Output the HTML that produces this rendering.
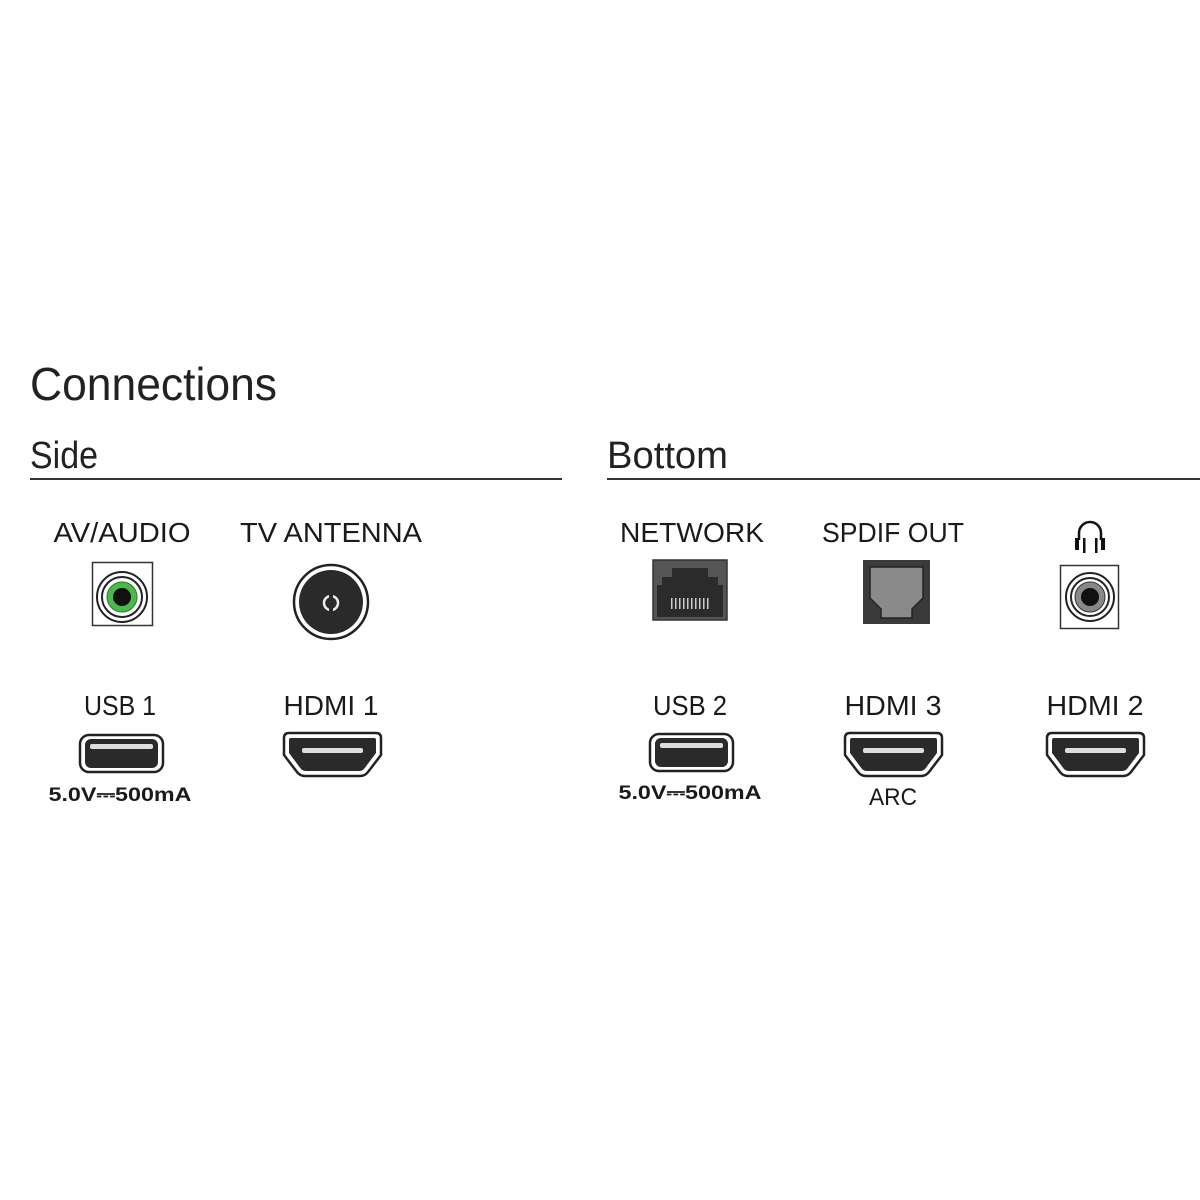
<!DOCTYPE html>
<html><head><meta charset="utf-8"><style>html,body{margin:0;padding:0;background:#fff}svg{display:block}</style></head>
<body>
<svg width="1200" height="1200" viewBox="0 0 1200 1200" xmlns="http://www.w3.org/2000/svg" font-family="Liberation Sans, sans-serif">
<defs>
<g id="hdmi">
<path d="M5,0 H92 Q97,0 97,5 V22 L84,39 Q81,43 76,43 H21 Q16,43 13,39 L0,22 V5 Q0,0 5,0 Z" fill="#fff" stroke="#222" stroke-width="2.5"/>
<path d="M7,5 H90 Q92,5 92,7 V20 L80,36 Q78,38 75,38 H22 Q19,38 17,36 L5,20 V7 Q5,5 7,5 Z" fill="#2a2a2a"/>
<rect x="18" y="15" width="61" height="5" rx="2" fill="#ddd"/>
</g>
<g id="usb">
<rect x="0" y="0" width="83" height="37" rx="9" fill="#fff" stroke="#222" stroke-width="2.5"/>
<rect x="5" y="4" width="73" height="29" rx="6" fill="#2a2a2a"/>
<rect x="10" y="9" width="63" height="5" rx="2" fill="#ddd"/>
</g>
</defs>
<g fill="#1a1a1a">
<text x="30" y="400" font-size="46" textLength="247" lengthAdjust="spacingAndGlyphs" fill="#222">Connections</text>
<text x="30" y="468" font-size="38" textLength="68" lengthAdjust="spacingAndGlyphs" fill="#222">Side</text>
<text x="607" y="468" font-size="38" textLength="121" lengthAdjust="spacingAndGlyphs" fill="#222">Bottom</text>
</g>
<rect x="30" y="478" width="532" height="2" fill="#333"/>
<rect x="607" y="478" width="593" height="2" fill="#333"/>

<g font-size="28" text-anchor="middle" fill="#1a1a1a">
<text x="122" y="542" textLength="137" lengthAdjust="spacingAndGlyphs">AV/AUDIO</text>
<text x="331" y="542" textLength="182" lengthAdjust="spacingAndGlyphs">TV ANTENNA</text>
<text x="692" y="542" textLength="144" lengthAdjust="spacingAndGlyphs">NETWORK</text>
<text x="893" y="542" textLength="142" lengthAdjust="spacingAndGlyphs">SPDIF OUT</text>
<text x="120" y="715" textLength="72" lengthAdjust="spacingAndGlyphs">USB 1</text>
<text x="331" y="715" textLength="95" lengthAdjust="spacingAndGlyphs">HDMI 1</text>
<text x="690" y="715" textLength="74" lengthAdjust="spacingAndGlyphs">USB 2</text>
<text x="893" y="715" textLength="97" lengthAdjust="spacingAndGlyphs">HDMI 3</text>
<text x="1095" y="715" textLength="97" lengthAdjust="spacingAndGlyphs">HDMI 2</text>
<text x="893" y="805" font-size="24" textLength="48" lengthAdjust="spacingAndGlyphs">ARC</text>
</g>
<g font-size="19" font-weight="bold" text-anchor="middle" fill="#1a1a1a">
<text x="120" y="801" textLength="143" lengthAdjust="spacingAndGlyphs">5.0V⎓500mA</text>
<text x="690" y="799" textLength="143" lengthAdjust="spacingAndGlyphs">5.0V⎓500mA</text>
</g>

<!-- AV jack -->
<rect x="92.5" y="562.5" width="60" height="63" fill="#fff" stroke="#333" stroke-width="1.5"/>
<circle cx="122" cy="597" r="25" fill="#fff" stroke="#222" stroke-width="2"/>
<circle cx="122" cy="597" r="20" fill="#fff" stroke="#222" stroke-width="2"/>
<circle cx="122" cy="597" r="15" fill="#4ab84a" stroke="#2a7a2a" stroke-width="1"/>
<circle cx="122" cy="597" r="9" fill="#111"/>

<!-- Antenna -->
<circle cx="331" cy="602" r="37" fill="#fff" stroke="#222" stroke-width="2.5"/>
<circle cx="331" cy="602" r="32" fill="#2a2a2a"/>
<circle cx="331" cy="603" r="7" fill="none" stroke="#eee" stroke-width="2.5"/>
<rect x="329" y="593" width="4" height="20" fill="#2a2a2a"/>

<!-- Network -->
<rect x="653" y="560" width="74" height="60" fill="#555" stroke="#333" stroke-width="1.5"/>
<path d="M657,617 V585 H662 V577 H672 V568 H708 V577 H718 V585 H723 V617 Z" fill="#2b2b2b"/>
<g fill="#ccc"><rect x="671" y="598" width="1.5" height="11"/><rect x="675" y="598" width="1.5" height="11"/><rect x="679" y="598" width="1.5" height="11"/><rect x="683" y="598" width="1.5" height="11"/><rect x="687" y="598" width="1.5" height="11"/><rect x="691" y="598" width="1.5" height="11"/><rect x="695" y="598" width="1.5" height="11"/><rect x="699" y="598" width="1.5" height="11"/><rect x="703" y="598" width="1.5" height="11"/><rect x="707" y="598" width="1.5" height="11"/></g>

<!-- SPDIF -->
<rect x="863" y="560" width="67" height="64" fill="#3a3a3a"/>
<path d="M870,567 H923 V598 L912,609 V618 H881 V609 L870,598 Z" fill="#8a8a8a" stroke="#222" stroke-width="1.5"/>

<!-- Headphone -->
<path d="M1079,540 V533 A11,11 0 0 1 1101,533 V540" fill="none" stroke="#111" stroke-width="2.5"/>
<rect x="1075" y="538" width="4" height="12" fill="#111"/>
<rect x="1083" y="538" width="2.5" height="15" fill="#111"/>
<rect x="1095" y="538" width="2.5" height="15" fill="#111"/>
<rect x="1101" y="538" width="4" height="12" fill="#111"/>
<rect x="1060.5" y="565.5" width="58" height="63" fill="#fff" stroke="#333" stroke-width="1.5"/>
<circle cx="1090" cy="597" r="24" fill="#fff" stroke="#222" stroke-width="2"/>
<circle cx="1090" cy="597" r="19" fill="#fff" stroke="#222" stroke-width="2"/>
<circle cx="1090" cy="597" r="15" fill="#888" stroke="#333" stroke-width="1"/>
<circle cx="1090" cy="597" r="9" fill="#111"/>

<use href="#usb" x="80" y="735"/>
<use href="#usb" x="650" y="734"/>
<use href="#hdmi" x="284" y="733"/>
<use href="#hdmi" x="845" y="733"/>
<use href="#hdmi" x="1047" y="733"/>
</svg>
</body></html>
